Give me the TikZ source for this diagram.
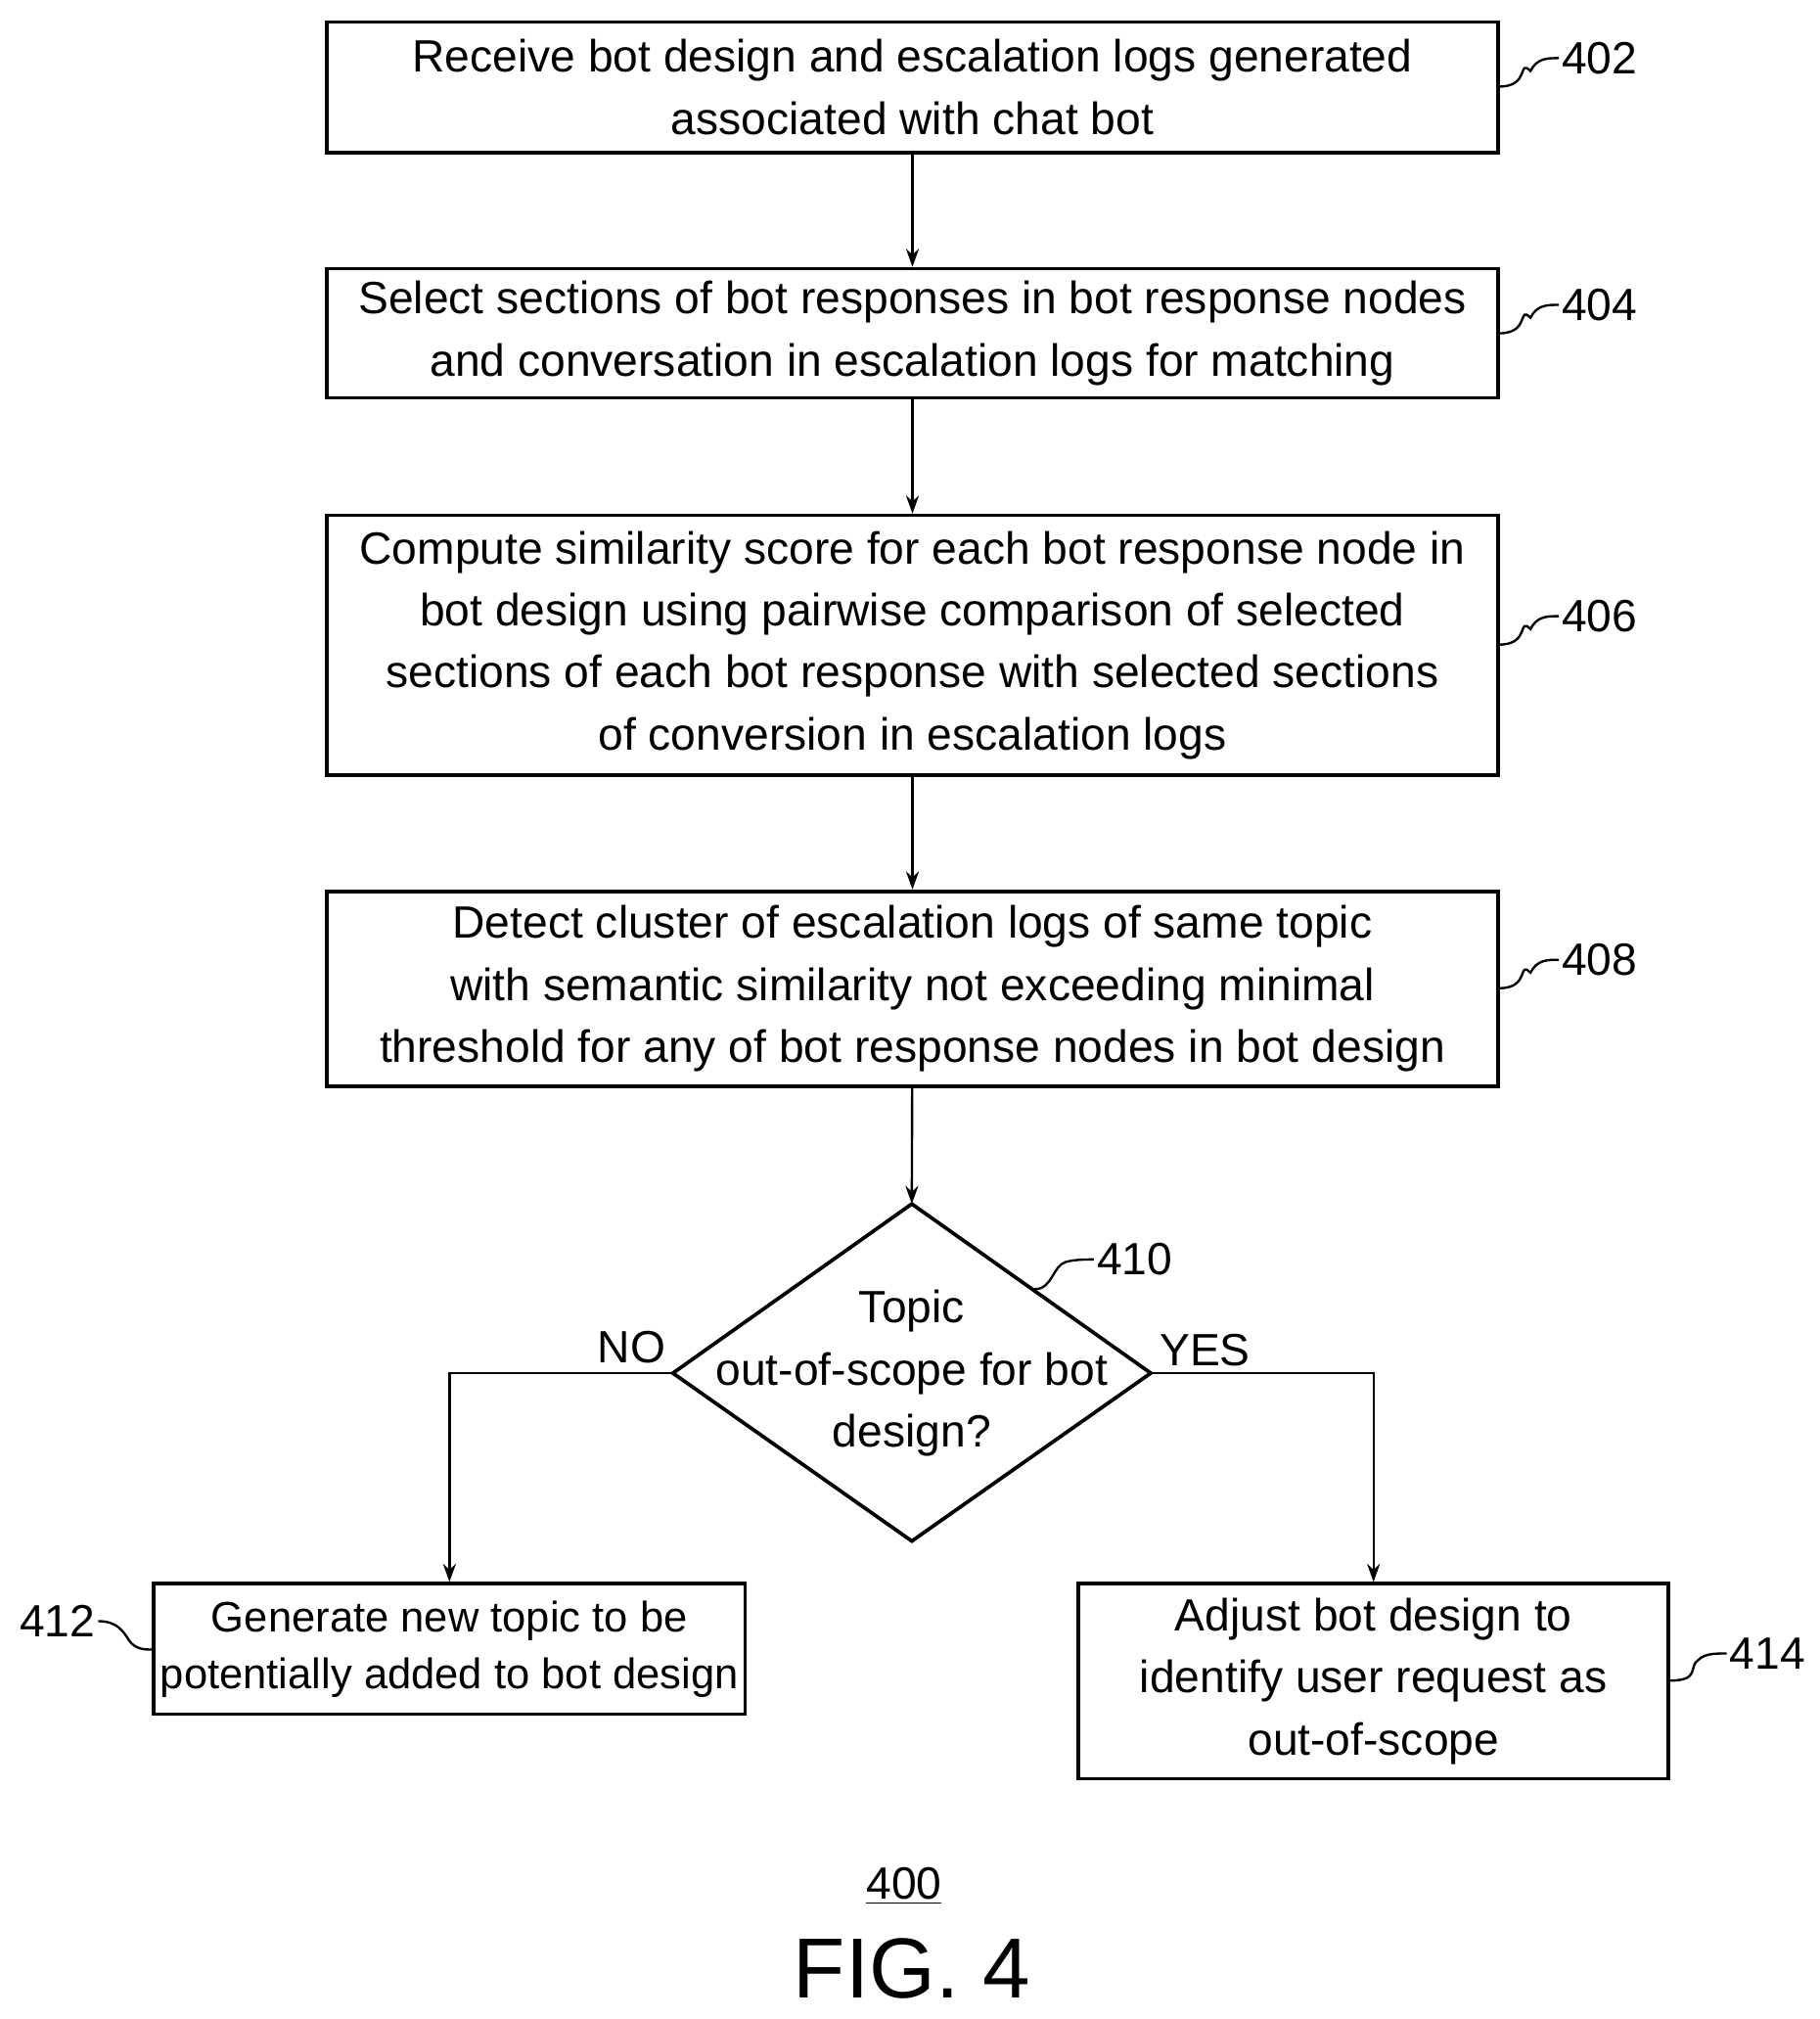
\documentclass[tikz,border=0pt]{standalone}
\usepackage{fontspec}
\setmainfont{Liberation Sans}
\usetikzlibrary{shapes.geometric,arrows.meta}
\begin{document}
\begin{tikzpicture}[x=0.5pt,y=-0.5pt,
  box/.style={draw,line width=1.4pt,inner sep=0pt,align=center,font=\fontsize{17.5}{24}\selectfont},
  lbl/.style={font=\fontsize{17.5}{24}\selectfont,inner sep=1pt},
  arr/.style={-{Stealth[length=7pt,width=5pt]},line width=0.9pt},
  sq/.style={line width=0.9pt}]
\useasboundingbox (0,0) rectangle (1409,1563);
\node[box,minimum width=453.5pt,minimum height=50.5pt] (b402) at (706.5,67.5) {Receive bot design and escalation logs generated\\associated with chat bot};
\node[box,minimum width=453.5pt,minimum height=50pt] (b404) at (706.5,258) {Select sections of bot responses in bot response nodes\\and conversation in escalation logs for matching};
\node[box,minimum width=453.5pt,minimum height=100.5pt] (b406) at (706.5,499.5) {Compute similarity score for each bot response node in\\bot design using pairwise comparison of selected\\sections of each bot response with selected sections\\of conversion in escalation logs};
\node[box,minimum width=453.5pt,minimum height=75.5pt] (b408) at (706.5,765.5) {Detect cluster of escalation logs of same topic\\with semantic similarity not exceeding minimal\\threshold for any of bot response nodes in bot design};
\coordinate (dt) at (706,932); \coordinate (db) at (706,1193);
\coordinate (dl) at (521,1063); \coordinate (dr) at (891,1063);
\draw[line width=1.4pt] (dt)--(dr)--(db)--(dl)--cycle;
\node[lbl,align=center] (d410) at (706,1063) {Topic\\out-of-scope for bot\\design?};
\node[box,minimum width=229pt,minimum height=50.5pt,font=\fontsize{16.5}{22}\selectfont] (b412) at (348,1276.5) {Generate new topic to be\\potentially added to bot design};
\node[box,minimum width=228.5pt,minimum height=75.5pt] (b414) at (1063.5,1301.5) {Adjust bot design to\\identify user request as\\out-of-scope};
\draw[arr] (b402)--(b404);
\draw[arr] (b404)--(b406);
\draw[arr] (b406)--(b408);
\draw[arr] (b408)--(dt);
\draw[arr] (dl) -| (b412.north);
\draw[arr] (dr) -| (b414.north);
\node[lbl] (no) at (489,1043) {NO};
\node[lbl] (yes) at (933,1045) {YES};
\node[lbl,anchor=west] (l402) at (1207,45) {402};
\node[lbl,anchor=west] (l404) at (1207,236) {404};
\node[lbl,anchor=west] (l406) at (1207,477) {406};
\node[lbl,anchor=west] (l408) at (1207,743) {408};
\node[lbl,anchor=west] (l410) at (847,975) {410};
\node[lbl,anchor=east] (l412) at (76,1255) {412};
\node[lbl,anchor=west] (l414) at (1337,1280) {414};
\foreach \n/\y in {402/67,404/258,406/499,408/765}{
  \draw[sq] (1161,\y) .. controls (1185,\y) and (1175,\y-22) .. (1185,\y-12) .. controls (1190,\y-22) and (1198,\y-22) .. (l\n.west);}
\draw[sq] (801,998) .. controls (815,998) and (815,980) .. (825,977) .. controls (832,975) and (840,975) .. (l410.west);
\draw[sq] (l412.east) .. controls (90,1255) and (95,1262) .. (100,1270) .. controls (105,1277) and (112,1277) .. (119,1277);
\draw[sq] (1293,1301) .. controls (1317,1301) and (1307,1290) .. (1315,1285) .. controls (1320,1280) and (1328,1280) .. (l414.west);
\node[lbl] (n400) at (700,1460) {\underline{400}};
\node[font=\fontsize{33}{36}\selectfont] (fig) at (706,1524) {FIG. 4};
\end{tikzpicture}
\end{document}
